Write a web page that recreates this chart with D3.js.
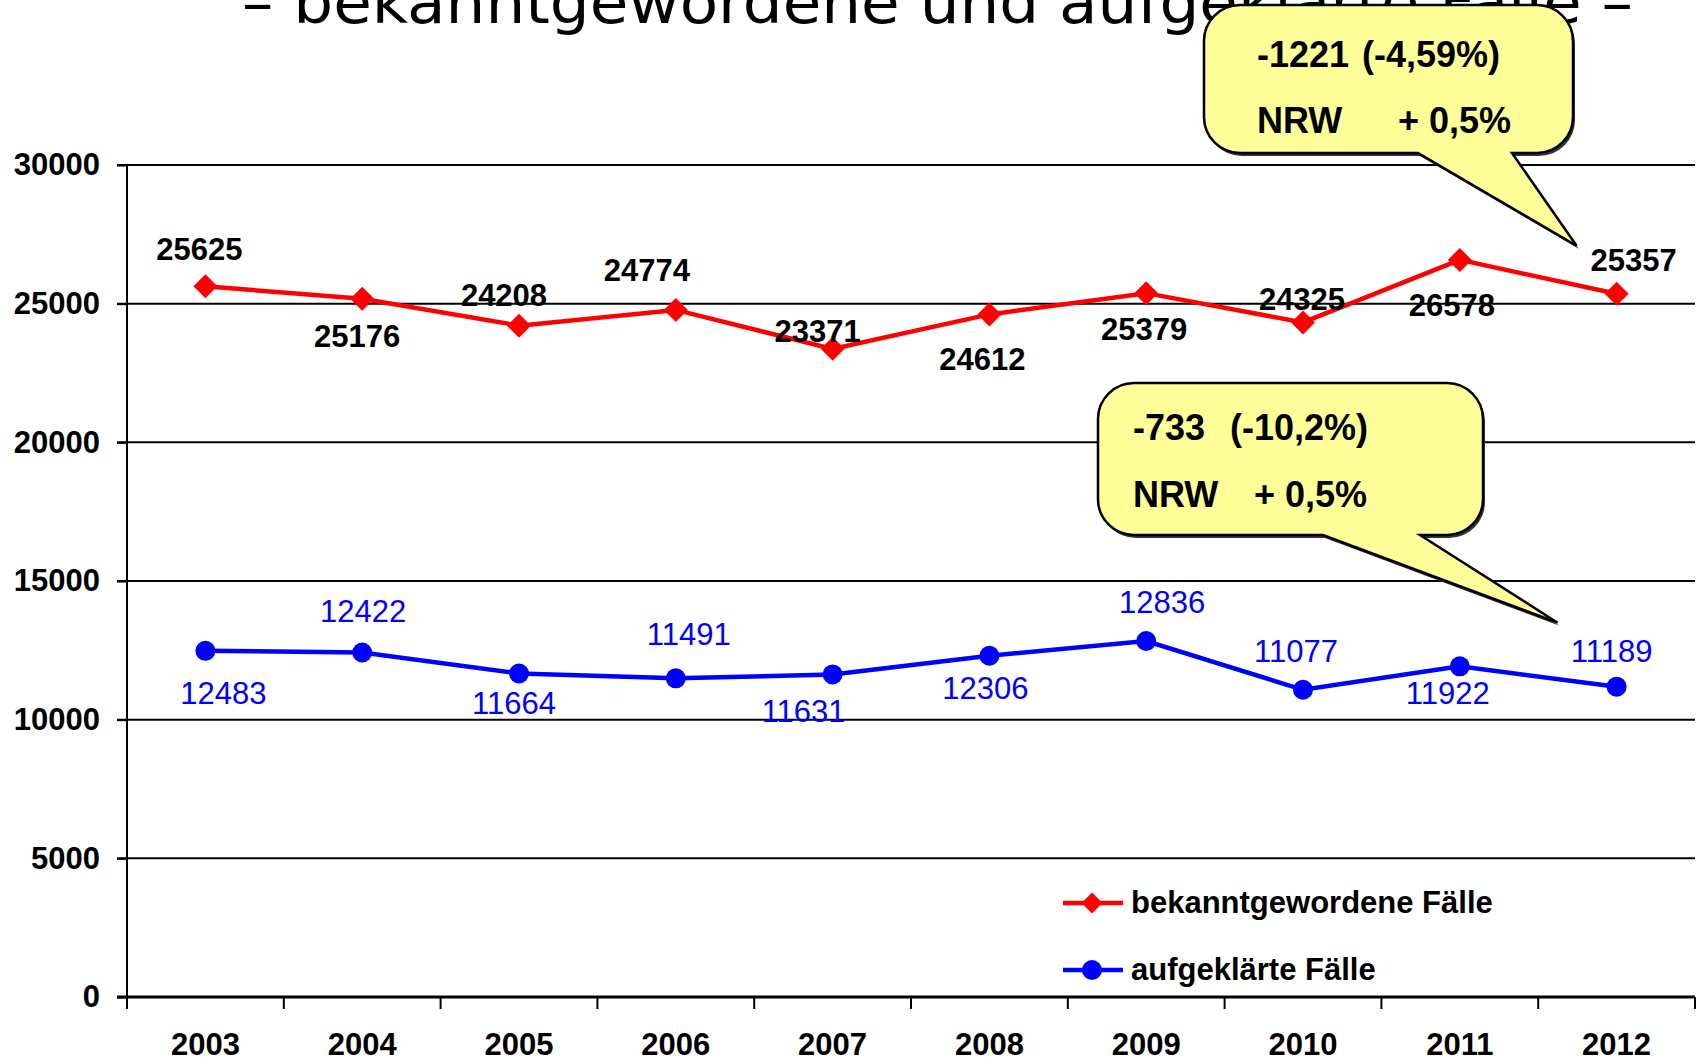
<!DOCTYPE html>
<html>
<head>
<meta charset="utf-8">
<script src="https://cdn.jsdelivr.net/npm/d3@7"></script>
<style>
  body { margin: 0; background: #fff; }
  svg { display: block; font-family: "Liberation Sans", Arial, sans-serif; }
</style>
</head>
<body>
<svg id="view"></svg>
<script>
// chart data
const years = ['2003','2004','2005','2006','2007','2008','2009','2010','2011','2012'];
const bekannt = [25625, 25176, 24208, 24774, 23371, 24612, 25379, 24325, 26578, 25357];
const aufgeklaert = [12483, 12422, 11664, 11491, 11631, 12306, 12836, 11077, 11922, 11189];
const yTicks = [0, 5000, 10000, 15000, 20000, 25000, 30000];
const seriesNames = ['bekanntgewordene Fälle', 'aufgeklärte Fälle'];
const titleText = '– bekanntgewordene und aufgeklärte Fälle –';
const callout1Lines = ['-1221', '(-4,59%)', 'NRW', '+ 0,5%'];
const callout2Lines = ['-733', '(-10,2%)', 'NRW', '+ 0,5%'];

// label placement (pixel nudges relative to each point)
const redDx  = [-6, -5, -15, -29, -15, -7, -2, -1, -8, 17];
const redDy  = [-26, 48, -20, -29, -7, 56, 47, -12, 56, -23];
const blueDx = [18, 1, -5, 13, -29, -4, 16, -7, -12, -5];
const blueDy = [53, -30, 40, -33, 48, 43, -28, -28, 38, -25];

const W = 1699, H = 1063;
const margin = {top: 165, right: 4, bottom: 66, left: 127};

const svg = d3.select('#view').attr('width', W).attr('height', H);

const x = d3.scaleBand().domain(years).range([margin.left, W - margin.right]);
const y = d3.scaleLinear().domain([0, 30000]).range([H - margin.bottom, margin.top]);
const cx = d => x(d) + x.bandwidth() / 2;

// title (mostly cut off at the top)
svg.append('text')
    .attr('x', 242).attr('y', 23)
    .attr('textLength', 1391)
    .attr('lengthAdjust', 'spacingAndGlyphs')
    .style('font-family', '"DejaVu Sans", Verdana, sans-serif')
    .style('font-size', '58px')
    .text(titleText);

// grid lines
svg.append('g').selectAll('line')
    .data(yTicks.filter(t => t > 0))
    .enter().append('line')
    .attr('x1', margin.left - 10).attr('x2', W - margin.right)
    .attr('y1', d => y(d)).attr('y2', d => y(d))
    .attr('stroke', '#000').attr('stroke-width', 2);

// y axis
const yAxis = d3.axisLeft(y).tickValues(yTicks).tickSize(10).tickPadding(17).tickFormat(d3.format('d'));
const gy = svg.append('g').attr('transform', `translate(${margin.left},0)`).call(yAxis);
gy.select('.domain').attr('stroke-width', 2).attr('d', `M0,${y(30000)}V${y(0)}`);
gy.selectAll('.tick line').attr('stroke-width', 2);
gy.selectAll('.tick text')
    .style('font-size', '31px').style('font-weight', 'bold').attr('fill', '#000');

// x axis: ticks at band boundaries, labels in band centres
const gx = svg.append('g');
gx.append('line')
    .attr('x1', margin.left - 10).attr('x2', W - margin.right)
    .attr('y1', y(0)).attr('y2', y(0))
    .attr('stroke', '#000').attr('stroke-width', 3);
const bounds = years.map(d => x(d)).concat([x.range()[1]]);
gx.selectAll('.xt').data(bounds).enter().append('line')
    .attr('class', 'xt')
    .attr('x1', d => d).attr('x2', d => d)
    .attr('y1', y(0)).attr('y2', y(0) + 12)
    .attr('stroke', '#000').attr('stroke-width', 2);
gx.selectAll('.xl').data(years).enter().append('text')
    .attr('class', 'xl')
    .attr('x', d => cx(d)).attr('y', 1055)
    .attr('text-anchor', 'middle')
    .style('font-size', '31px').style('font-weight', 'bold')
    .text(d => d);

// lines
const line = d3.line().x(d => cx(d.year)).y(d => y(d.v));
const redData = years.map((yr, i) => ({year: yr, v: bekannt[i]}));
const blueData = years.map((yr, i) => ({year: yr, v: aufgeklaert[i]}));

svg.append('path').datum(redData)
    .attr('d', line).attr('fill', 'none')
    .attr('stroke', '#ff0000').attr('stroke-width', 4.5);
svg.append('path').datum(blueData)
    .attr('d', line).attr('fill', 'none')
    .attr('stroke', '#0000ff').attr('stroke-width', 4.5);

const diamond = r => `M0,${-r}L${r},0L0,${r}L${-r},0Z`;

svg.selectAll('.dia').data(redData).enter().append('path')
    .attr('class', 'dia')
    .attr('transform', d => `translate(${cx(d.year)},${y(d.v)})`)
    .attr('d', diamond(12))
    .attr('fill', '#ff0000');

svg.selectAll('.dot').data(blueData).enter().append('circle')
    .attr('class', 'dot')
    .attr('cx', d => cx(d.year)).attr('cy', d => y(d.v))
    .attr('r', 10)
    .attr('fill', '#0000ff');

// value labels
svg.selectAll('.rl').data(redData).enter().append('text')
    .attr('class', 'rl')
    .attr('x', (d, i) => cx(d.year) + redDx[i])
    .attr('y', (d, i) => y(d.v) + redDy[i])
    .attr('text-anchor', 'middle')
    .style('font-size', '31px').style('font-weight', 'bold')
    .text(d => d.v);

svg.selectAll('.bl').data(blueData).enter().append('text')
    .attr('class', 'bl')
    .attr('x', (d, i) => cx(d.year) + blueDx[i])
    .attr('y', (d, i) => y(d.v) + blueDy[i])
    .attr('text-anchor', 'middle')
    .attr('fill', '#0000ff')
    .style('font-size', '31px')
    .text(d => d.v);

// legend
const legend = svg.append('g').attr('transform', 'translate(1063,903)');
[0, 1].forEach(i => {
    const g = legend.append('g').attr('transform', `translate(0,${i * 67})`);
    const col = i === 0 ? '#ff0000' : '#0000ff';
    g.append('line').attr('x1', 0).attr('x2', 60).attr('stroke', col).attr('stroke-width', 4.5);
    if (i === 0) g.append('path').attr('d', diamond(10.5)).attr('transform', 'translate(29,0)').attr('fill', col);
    else g.append('circle').attr('cx', 29).attr('r', 10).attr('fill', col);
    g.append('text').attr('x', 68).attr('y', 10)
        .style('font-size', '31px').style('font-weight', 'bold')
        .text(seriesNames[i]);
});

// callouts
function calloutPath(b, base1, base2, tip, r) {
    return `M${b.x0 + r},${b.y0}H${b.x1 - r}A${r},${r} 0 0 1 ${b.x1},${b.y0 + r}` +
        `V${b.y1 - r}A${r},${r} 0 0 1 ${b.x1 - r},${b.y1}H${base2}L${tip[0]},${tip[1]}L${base1},${b.y1}` +
        `H${b.x0 + r}A${r},${r} 0 0 1 ${b.x0},${b.y1 - r}V${b.y0 + r}A${r},${r} 0 0 1 ${b.x0 + r},${b.y0}Z`;
}

function callout(box, base1, base2, tip, lines, tx, tx2, tx3, by1, by2) {
    const g = svg.append('g');
    const d = calloutPath(box, base1, base2, tip, 36);
    g.append('path').attr('d', d).attr('transform', 'translate(2,3)').attr('fill', '#333');
    g.append('path').attr('d', d).attr('fill', '#ffff99').attr('stroke', '#000').attr('stroke-width', 2.5);
    const t = g.append('g').style('font-size', '36px').style('font-weight', 'bold');
    t.append('text').attr('x', tx).attr('y', by1).text(lines[0]);
    t.append('text').attr('x', tx2).attr('y', by1).text(lines[1]);
    t.append('text').attr('x', tx).attr('y', by2).text(lines[2]);
    t.append('text').attr('x', tx3).attr('y', by2).text(lines[3]);
}

const last = years.length - 1;
callout({x0: 1204, y0: 5, x1: 1573, y1: 153}, 1418, 1512,
    [cx(years[last]) - 40, y(bekannt[last]) - 48],
    callout1Lines, 1257, 1362, 1398, 67, 133);
callout({x0: 1098, y0: 383, x1: 1483, y1: 535}, 1323, 1420,
    [cx(years[last]) - 59, y(aufgeklaert[last]) - 64],
    callout2Lines, 1133, 1230, 1254, 440, 507);
</script>
</body>
</html>
